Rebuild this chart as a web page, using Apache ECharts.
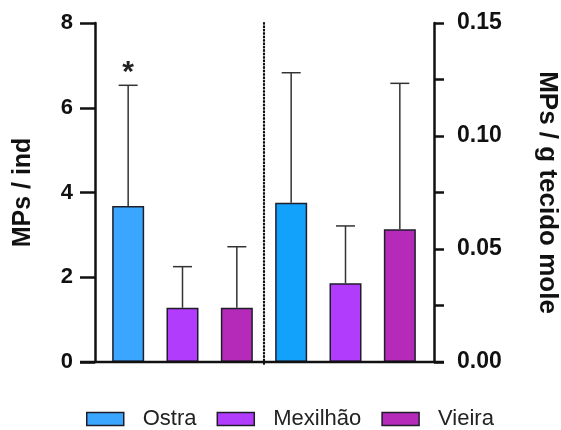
<!DOCTYPE html>
<html>
<head>
<meta charset="utf-8">
<script src="https://cdn.jsdelivr.net/npm/echarts@6/dist/echarts.min.js"></script>
<style>html,body{margin:0;padding:0;background:#fff}#c{width:561px;height:430px}</style>
</head>
<body>
<div id="c"></div>
<script>
const categories = ['Ostra', 'Mexilhão', 'Vieira', 'Ostra', 'Mexilhão', 'Vieira'];
const species = ['Ostra', 'Mexilhão', 'Vieira'];
const perInd = [3.68, 1.28, 1.28];
const perIndSD = [2.85, 0.97, 1.44];
const perGram = [0.0705, 0.0348, 0.0587];
const perGramSD = [0.0575, 0.0254, 0.0646];
const signif = ['*', '', ''];
const leftTicks = [0, 2, 4, 6, 8];
const rightTicks = [0, 0.05, 0.10, 0.15];

const colorsLeft = ['#3aa6ff', '#b23cfc', '#b52ab8'];
const colorsRight = ['#12a2fb', '#b23cfc', '#b52ab8'];
const FONT = 'Liberation Sans, Arial, Helvetica, sans-serif';

const chart = echarts.init(document.getElementById('c'), null, {renderer: 'canvas'});

function barSeries(i, side) {
  const data = categories.map(() => null);
  if (side === 0) data[i] = perInd[i]; else data[i + 3] = perGram[i];
  return {
    type: 'bar', name: species[i], yAxisIndex: side, data: data,
    barWidth: 32, barGap: '-100%',
    itemStyle: {color: side === 0 ? colorsLeft[i] : colorsRight[i], borderColor: '#1e1e2a', borderWidth: 1.5},
    emphasis: {disabled: true}, z: 2
  };
}

function errSeries(side) {
  const data = species.map((s, i) => side === 0
    ? [i, perInd[i], perInd[i] + perIndSD[i], signif[i]]
    : [i + 3, perGram[i], perGram[i] + perGramSD[i], '']);
  return {
    type: 'custom', yAxisIndex: side, data: data, z: 3, silent: true,
    renderItem: function (params, api) {
      const x = api.value(0);
      const p0 = api.coord([x, api.value(1)]);
      const p1 = api.coord([x, api.value(2)]);
      const half = 9.5;
      const children = [
        {type: 'line', shape: {x1: p0[0], y1: p0[1], x2: p1[0], y2: p1[1]}, style: {stroke: '#333', lineWidth: 1.5}},
        {type: 'line', shape: {x1: p1[0] - half, y1: p1[1], x2: p1[0] + half, y2: p1[1]}, style: {stroke: '#333', lineWidth: 1.5}}
      ];
      const lab = data[params.dataIndex][3];
      if (lab) {
        children.push({type: 'text', style: {text: lab, x: p1[0], y: p1[1] + 2, align: 'center', verticalAlign: 'bottom', font: 'bold 30px ' + FONT, fill: '#222'}});
      }
      return {type: 'group', children: children};
    }
  };
}

const series = [];
species.forEach((s, i) => series.push(barSeries(i, 0)));
species.forEach((s, i) => series.push(barSeries(i, 1)));
series.push(errSeries(0), errSeries(1));

chart.setOption({
  animation: false,
  grid: {left: 101, right: 134, top: 23, bottom: 68, containLabel: false, outerBoundsMode: 'none'},
  legend: {
    data: species, left: 81, top: 403, itemWidth: 37, itemHeight: 13, itemGap: 20,
    icon: 'rect',
    itemStyle: {borderColor: '#1e1e2a', borderWidth: 1.5},
    textStyle: {fontFamily: FONT, fontSize: 22, color: '#222', padding: [0, 0, 0, 14]}
  },
  xAxis: {
    type: 'category', data: categories,
    axisLine: {show: false}, axisTick: {show: false}, axisLabel: {show: false}
  },
  yAxis: [
    {
      type: 'value', min: leftTicks[0], max: leftTicks[leftTicks.length - 1], interval: 2,
      position: 'left', offset: 6,
      name: 'MPs / ind', nameLocation: 'middle', nameGap: 59,
      nameTextStyle: {fontFamily: FONT, fontSize: 25, fontWeight: 'bold', color: '#111'},
      axisLine: {show: true, lineStyle: {color: '#111', width: 2.5}},
      axisTick: {show: true, length: 15, lineStyle: {color: '#111', width: 2.5}},
      axisLabel: {fontFamily: FONT, fontSize: 22, fontWeight: 'bold', color: '#111', margin: 22},
      splitLine: {show: false}
    },
    {
      type: 'value', min: rightTicks[0], max: rightTicks[rightTicks.length - 1], interval: 0.05,
      position: 'right', offset: 7,
      name: 'MPs / g tecido mole', nameLocation: 'middle', nameGap: 100, nameRotate: -90,
      nameTextStyle: {fontFamily: FONT, fontSize: 26, fontWeight: 'bold', color: '#111'},
      axisLine: {show: true, lineStyle: {color: '#111', width: 2.5}},
      axisTick: {show: true, length: 10, lineStyle: {color: '#111', width: 2.5}},
      minorTick: {show: true, splitNumber: 2, length: 10, lineStyle: {color: '#111', width: 2.5}},
      axisLabel: {fontFamily: FONT, fontSize: 23, fontWeight: 'bold', color: '#111', margin: 23,
        formatter: v => v.toFixed(2)},
      splitLine: {show: false}
    }
  ],
  series: series
});

// baseline and group separator, positioned from the axes
const y0 = chart.convertToPixel({yAxisIndex: 0}, 0);
const yTop = chart.convertToPixel({yAxisIndex: 0}, 8);
const xa = chart.convertToPixel({xAxisIndex: 0}, 2);
const xb = chart.convertToPixel({xAxisIndex: 0}, 3);
const xSep = (xa + xb) / 2;
const rect = chart.getModel().getComponent('grid').coordinateSystem.getRect();
const leftX = rect.x - 6 - 15, rightX = rect.x + rect.width + 7 + 10;
chart.setOption({
  graphic: [
    {type: 'line', shape: {x1: leftX, y1: y0, x2: rightX, y2: y0}, style: {stroke: '#111', lineWidth: 2.5}, z: 10},
    {type: 'line', shape: {x1: xSep, y1: yTop, x2: xSep, y2: y0 + 3}, style: {stroke: '#111', lineWidth: 2.2, lineDash: [0.8, 2.6], lineCap: 'round'}, z: 10}
  ]
});
</script>
</body>
</html>
